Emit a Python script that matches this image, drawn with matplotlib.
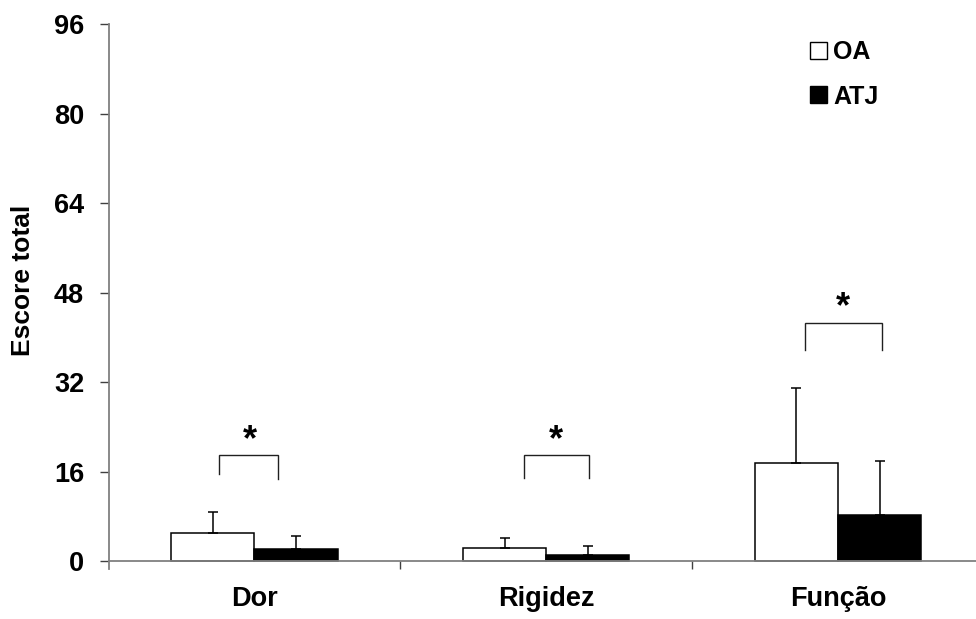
import matplotlib.pyplot as plt
from matplotlib.patches import Patch
import numpy as np

# WOMAC scores (mean + SD)
categories = ['Dor', 'Rigidez', 'Função']
oa_mean = [5.0, 2.4, 17.6]
oa_sd = [3.8, 1.8, 13.3]
atj_mean = [2.2, 1.0, 8.2]
atj_sd = [2.3, 1.7, 9.7]
y_ticks = [0, 16, 32, 48, 64, 80, 96]

# significance brackets: (left, right, top, left leg bottom, right leg bottom, star x, star y)
brackets = [
    (-0.12, 0.08, 18.9, 15.5, 14.7, -0.014, 21.6),
    (-0.075, 0.145, 18.9, 14.8, 14.8, 0.034, 21.6),
    (-0.115, 0.15, 42.6, 37.7, 37.7, 0.017, 45.2),
]

plt.rcParams['font.family'] = ['Liberation Sans', 'DejaVu Sans']
plt.rcParams['font.weight'] = 'bold'

fig = plt.figure(figsize=(9.76, 6.19), dpi=100)
ax = fig.add_axes([108.5 / 976, 50 / 619, 875.5 / 976, 545 / 619])

x = np.arange(len(categories))
w = 0.285
edge = dict(edgecolor='black', linewidth=1.1)
ax.bar(x - w / 2, oa_mean, w, color='white', **edge, zorder=2)
ax.bar(x + w / 2, atj_mean, w, color='black', **edge, zorder=2)
ax.errorbar(x - w / 2, oa_mean, yerr=[np.zeros(3), oa_sd], fmt='none',
            ecolor='black', elinewidth=1.1, capsize=3.6, capthick=1.1, zorder=3)
ax.errorbar(x + w / 2, atj_mean, yerr=[np.zeros(3), atj_sd], fmt='none',
            ecolor='black', elinewidth=1.1, capsize=3.6, capthick=1.1, zorder=3)

for i, (l, r, top, lb, rb, sx, sy) in enumerate(brackets):
    ax.plot([i + l, i + l, i + r, i + r], [lb, top, top, rb],
            color='#202020', lw=1.0, solid_joinstyle='miter')
    ax.text(i + sx, sy, '*', ha='center', va='center', fontsize=26,
            fontweight='bold')

ax.set_xlim(-0.5, 2.5)
ax.set_ylim(-1.43, 96)
for s in ['top', 'right']:
    ax.spines[s].set_visible(False)
ax.spines['bottom'].set_position(('data', 0))
for s in ['left', 'bottom']:
    ax.spines[s].set_color('#808080')
    ax.spines[s].set_linewidth(1.3)
ax.spines['left'].set_bounds(-1.43, 96)

ax.set_yticks(y_ticks)
ax.set_yticklabels([str(t) for t in y_ticks], fontsize=19.5, fontweight='bold')
ax.tick_params(axis='y', direction='out', length=6.5, width=1.0,
               color='#404040', pad=11)

ax.set_xticks([0.5, 1.5, 2.5])
ax.set_xticklabels([])
ax.set_xticks(x, minor=True)
ax.set_xticklabels(categories, minor=True, fontsize=19.5, fontweight='bold')
ax.tick_params(axis='x', which='major', direction='out', length=5.8,
               width=1.0, color='#404040')
ax.tick_params(axis='x', which='minor', length=0, pad=18)

fig.text(23 / 976, 1 - 280 / 619, 'Escore total', rotation=90, ha='center',
         va='center', fontsize=19, fontweight='bold')

handles = [Patch(facecolor='white', edgecolor='black', linewidth=1.0),
           Patch(facecolor='black', edgecolor='black', linewidth=1.0)]
ax.legend(handles, ['OA', 'ATJ'], loc='upper left',
          bbox_to_anchor=(810 / 976, 1 - 40 / 619),
          bbox_transform=fig.transFigure, frameon=False,
          prop=dict(size=18, weight='bold'), handlelength=0.68,
          handleheight=0.68, handletextpad=0.25, labelspacing=0.82,
          borderpad=0, borderaxespad=0)

fig.savefig('out.png', dpi=100)
